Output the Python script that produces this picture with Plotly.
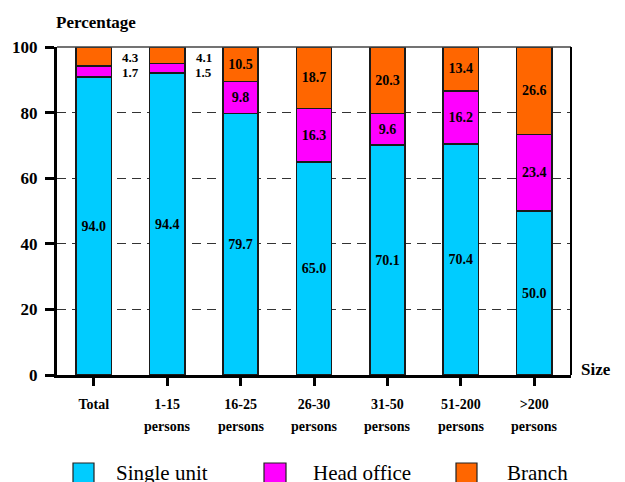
import plotly.graph_objects as go

# ---- data ----
categories = ["Total", "1-15 persons", "16-25 persons", "26-30 persons",
              "31-50 persons", "51-200 persons", ">200 persons"]
# segment heights as drawn in the reference
single_unit = [90.8, 92.0, 79.7, 65.0, 70.1, 70.4, 50.0]
head_office = [3.4, 3.0, 9.8, 16.3, 9.6, 16.2, 23.4]
branch = [5.8, 5.0, 10.5, 18.7, 20.3, 13.4, 26.6]
# printed value labels
single_lbl = ["94.0", "94.4", "79.7", "65.0", "70.1", "70.4", "50.0"]
head_lbl = ["1.7", "1.5", "9.8", "16.3", "9.6", "16.2", "23.4"]
branch_lbl = ["4.3", "4.1", "10.5", "18.7", "20.3", "13.4", "26.6"]
outside = [True, True, False, False, False, False, False]  # small labels placed beside bar
series_names = ["Single unit", "Head office", "Branch"]
colors = ["#00CCFF", "#FF00FF", "#FF6600"]
y_ticks = [0, 20, 40, 60, 80, 100]

FONT = "Liberation Serif"
OFF = 8  # page body margin
W, H = 625 - OFF, 482 - OFF
L, T = 57 - OFF, 47 - OFF
R = W - (571 - OFF)
B = H - (375 - OFF)
PW, PH = W - L - R, H - T - B

def px_x(px):
    return (px - OFF - L) / PW

def px_y(py):
    return (H - B - (py - OFF)) / PH

x_idx = list(range(len(categories)))
fig = go.Figure()
series = [(single_unit, single_lbl), (head_office, head_lbl), (branch, branch_lbl)]
for k, (vals, lbls) in enumerate(series):
    txt = [("" if (outside[i] and k > 0) else lbls[i]) for i in range(len(vals))]
    fig.add_trace(go.Bar(
        x=x_idx, y=vals, name=series_names[k], text=txt,
        textposition="inside", insidetextanchor="middle", textangle=0,
        constraintext="none",
        textfont=dict(family=FONT, size=14, color="black", weight="bold"),
        marker=dict(color=colors[k], line=dict(color="#1a1a1a", width=1.5)),
        width=0.48, showlegend=False, hoverinfo="skip",
    ))

annotations = []
# outside labels for small segments
for i in x_idx:
    if outside[i]:
        annotations.append(dict(x=i + 0.5, y=100, xref="x", yref="y", text=branch_lbl[i],
                                showarrow=False, yanchor="middle", yshift=-10,
                                font=dict(family=FONT, size=13, color="black", weight="bold")))
        annotations.append(dict(x=i + 0.5, y=100, xref="x", yref="y", text=head_lbl[i],
                                showarrow=False, yanchor="middle", yshift=-25,
                                font=dict(family=FONT, size=13, color="black", weight="bold")))

# second line of category labels
first_lines = [c.split(" ")[0] for c in categories]
for i, c in enumerate(categories):
    parts = c.split(" ")
    if len(parts) > 1:
        annotations.append(dict(x=i, y=px_y(426), xref="x", yref="paper", text=parts[1],
                                showarrow=False, yanchor="middle",
                                font=dict(family=FONT, size=14, color="black", weight="bold")))

annotations.append(dict(x=px_x(54), y=px_y(22), xref="paper", yref="paper", text="Percentage",
                        showarrow=False, xanchor="left", yanchor="middle",
                        font=dict(family=FONT, size=17, color="black", weight="bold")))
annotations.append(dict(x=px_x(579), y=px_y(369), xref="paper", yref="paper", text="Size",
                        showarrow=False, xanchor="left", yanchor="middle",
                        font=dict(family=FONT, size=17, color="black", weight="bold")))

# legend (manual)
shapes = []
leg_sq = [(73, 94), (264, 286), (456, 477)]
leg_tx = [114, 311, 505]
for k in range(3):
    x0, x1 = leg_sq[k]
    shapes.append(dict(type="rect", xref="paper", yref="paper",
                       x0=px_x(x0), x1=px_x(x1), y0=px_y(463), y1=px_y(490),
                       fillcolor=colors[k], line=dict(color="#222", width=1.2)))
    annotations.append(dict(x=px_x(leg_tx[k]), y=px_y(473), xref="paper", yref="paper",
                            text=series_names[k], showarrow=False, xanchor="left", yanchor="middle",
                            font=dict(family=FONT, size=21, color="black")))

# frame top and right
shapes.append(dict(type="line", xref="paper", yref="paper", x0=0, x1=1, y0=1, y1=1,
                   line=dict(color="#444", width=1.5)))
shapes.append(dict(type="line", xref="paper", yref="paper", x0=1, x1=1, y0=0, y1=1,
                   line=dict(color="black", width=2)))

fig.update_layout(
    barmode="stack",
    width=W, height=H,
    margin=dict(l=L, r=R, t=T, b=B, autoexpand=False),
    plot_bgcolor="white", paper_bgcolor="white",
    annotations=annotations, shapes=shapes,
    font=dict(family=FONT, color="black"),
    xaxis=dict(
        range=[-0.5, len(categories) - 0.5],
        tickmode="array", tickvals=x_idx, ticktext=first_lines,
        tickson="boundaries", ticks="outside", ticklen=8, tickwidth=2.5, tickcolor="black",
        showline=True, linewidth=3, linecolor="black", showgrid=False, zeroline=False,
        tickfont=dict(family=FONT, size=14, color="black", weight="bold"),
        ticklabelstandoff=6,
    ),
    yaxis=dict(
        range=[0, 100], tickmode="array", tickvals=y_ticks,
        ticks="outside", ticklen=9, tickwidth=2.5, tickcolor="black",
        showline=True, linewidth=3, linecolor="black",
        showgrid=True, gridcolor="#333", gridwidth=1.2, griddash="9px,6px",
        zeroline=False,
        tickfont=dict(family=FONT, size=17, color="black", weight="bold"),
        ticklabelstandoff=4,
    ),
)

fig.write_html("out.html")
